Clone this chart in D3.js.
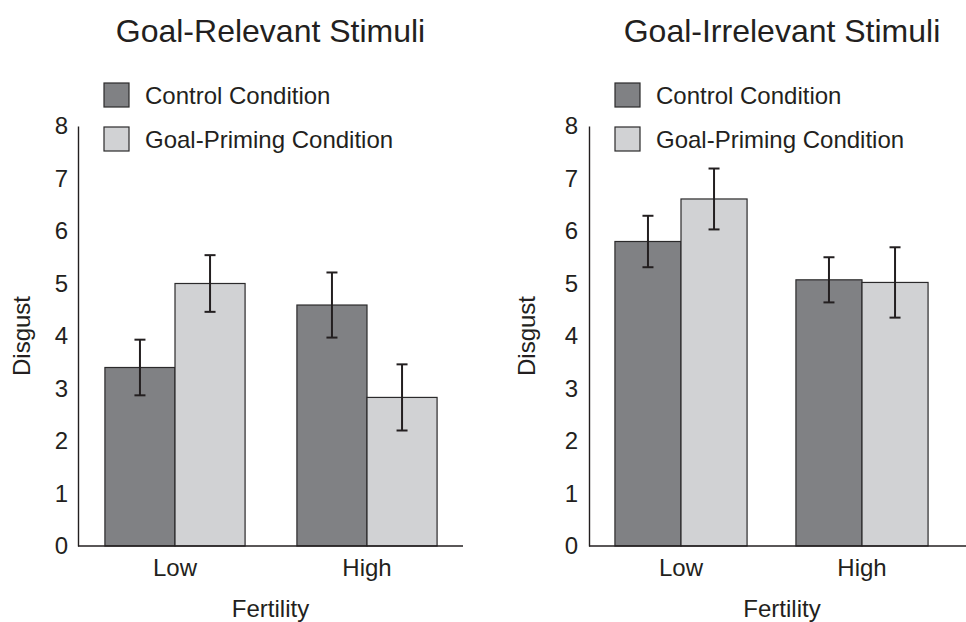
<!DOCTYPE html>
<html>
<head>
<meta charset="utf-8">
<script src="https://cdn.jsdelivr.net/npm/d3@7"></script>
<style>
    body { margin: 0; background: #fff; }
    text { font-family: "Liberation Sans", Arial, Helvetica, sans-serif; fill: #231f20; }
</style>
</head>
<body>
<div id="chart"></div>
<script>
// values
var categories = ["Low", "High"];
var conditions = ["Control Condition", "Goal-Priming Condition"];
var yTicks = [0, 1, 2, 3, 4, 5, 6, 7, 8];

var relevantControl = [3.40, 4.59];
var relevantControlErr = [0.53, 0.62];
var relevantPriming = [5.00, 2.83];
var relevantPrimingErr = [0.54, 0.63];

var irrelevantControl = [5.80, 5.07];
var irrelevantControlErr = [0.49, 0.43];
var irrelevantPriming = [6.61, 5.02];
var irrelevantPrimingErr = [0.58, 0.67];

var W = 966, H = 622,
    FONT = 24,
    colors = ["#808184", "#d1d2d4"],
    ink = "#231f20";

var svg = d3.select("#chart")
    .append("svg")
    .attr("width", W)
    .attr("height", H);

svg.append("rect")
    .attr("width", W)
    .attr("height", H)
    .style("fill", "#fff");

var y = d3.scaleLinear().domain([0, 8]).range([546, 126]);

function DrawPanel(p) {
    var g = svg.append("g");

    var x0 = d3.scaleBand().domain(categories).range(p.groupRange).padding(0);
    var step = x0.step();
    var x1 = d3.scaleBand().domain(conditions).range([step * 0.135, step * 0.865]);

    var rows = [];
    categories.forEach(function(c, i) {
        rows.push({cat: c, cond: conditions[0], v: p.control[i], e: p.controlErr[i]});
        rows.push({cat: c, cond: conditions[1], v: p.priming[i], e: p.primingErr[i]});
    });

    // bars
    g.selectAll("rect.bar")
        .data(rows)
        .enter().append("rect")
        .attr("class", "bar")
        .attr("x", function(d) { return x0(d.cat) + x1(d.cond); })
        .attr("y", function(d) { return y(d.v); })
        .attr("width", x1.bandwidth())
        .attr("height", function(d) { return y(0) - y(d.v); })
        .style("fill", function(d) { return colors[conditions.indexOf(d.cond)]; })
        .style("stroke", "#2b2a2b")
        .style("stroke-width", 1.2);

    // error bars
    var cap = 5.5;
    var eb = g.selectAll("g.err")
        .data(rows)
        .enter().append("g")
        .attr("class", "err")
        .attr("transform", function(d) {
            return "translate(" + (x0(d.cat) + x1(d.cond) + x1.bandwidth() / 2) + ",0)";
        })
        .style("stroke", ink)
        .style("stroke-width", 2);
    eb.append("line")
        .attr("y1", function(d) { return y(d.v + d.e); })
        .attr("y2", function(d) { return y(d.v - d.e); });
    eb.append("line")
        .attr("x1", -cap).attr("x2", cap)
        .attr("y1", function(d) { return y(d.v + d.e); })
        .attr("y2", function(d) { return y(d.v + d.e); });
    eb.append("line")
        .attr("x1", -cap).attr("x2", cap)
        .attr("y1", function(d) { return y(d.v - d.e); })
        .attr("y2", function(d) { return y(d.v - d.e); });

    // y axis
    var ya = g.append("g")
        .attr("transform", "translate(" + p.axisX[0] + ",0)")
        .call(d3.axisLeft(y).tickValues(yTicks).tickSize(0).tickSizeOuter(0).tickPadding(p.tickPad));
    ya.select(".domain").style("stroke", ink).style("stroke-width", 1.4);
    ya.selectAll("text")
        .style("font-size", FONT + "px")
        .style("font-family", "'Liberation Sans', Arial, sans-serif")
        .style("fill", ink);

    // x axis
    var xa = g.append("g")
        .attr("transform", "translate(0," + y(0) + ")")
        .call(d3.axisBottom(x0).tickSize(0).tickPadding(13));
    xa.select(".domain").remove();
    xa.selectAll("text")
        .style("font-size", FONT + "px")
        .style("font-family", "'Liberation Sans', Arial, sans-serif")
        .style("fill", ink);
    g.append("line")
        .attr("x1", p.axisX[0])
        .attr("x2", p.axisX[1])
        .attr("y1", y(0))
        .attr("y2", y(0))
        .style("stroke", ink)
        .style("stroke-width", 1.4);

    var mid = (p.axisX[0] + p.axisX[1]) / 2;

    // title
    g.append("text")
        .attr("x", mid)
        .attr("y", 42)
        .attr("text-anchor", "middle")
        .style("font-size", "32px")
        .text(p.title);

    // axis titles
    g.append("text")
        .attr("x", mid)
        .attr("y", 617)
        .attr("text-anchor", "middle")
        .style("font-size", FONT + "px")
        .text("Fertility");
    g.append("text")
        .attr("transform", "translate(" + p.yLabelX + "," + (y(0) + y(8)) / 2 + ") rotate(-90)")
        .attr("text-anchor", "middle")
        .style("font-size", FONT + "px")
        .text("Disgust");

    // legend
    conditions.forEach(function(c, i) {
        var ly = 83 + i * 44;
        g.append("rect")
            .attr("x", p.axisX[0] + 26)
            .attr("y", ly)
            .attr("width", 25)
            .attr("height", 24)
            .style("fill", colors[i])
            .style("stroke", "#2b2a2b")
            .style("stroke-width", 1.2);
        g.append("text")
            .attr("x", p.axisX[0] + 67)
            .attr("y", ly + 12)
            .attr("dy", "0.36em")
            .style("font-size", FONT + "px")
            .text(c);
    });
}

DrawPanel({
    title: "Goal-Relevant Stimuli",
    control: relevantControl, controlErr: relevantControlErr,
    priming: relevantPriming, primingErr: relevantPrimingErr,
    axisX: [78, 463],
    groupRange: [79, 463],
    tickPad: 10,
    yLabelX: 30
});

DrawPanel({
    title: "Goal-Irrelevant Stimuli",
    control: irrelevantControl, controlErr: irrelevantControlErr,
    priming: irrelevantPriming, primingErr: irrelevantPrimingErr,
    axisX: [589, 975],
    groupRange: [590.5, 952.5],
    tickPad: 11,
    yLabelX: 535
});
</script>
</body>
</html>
